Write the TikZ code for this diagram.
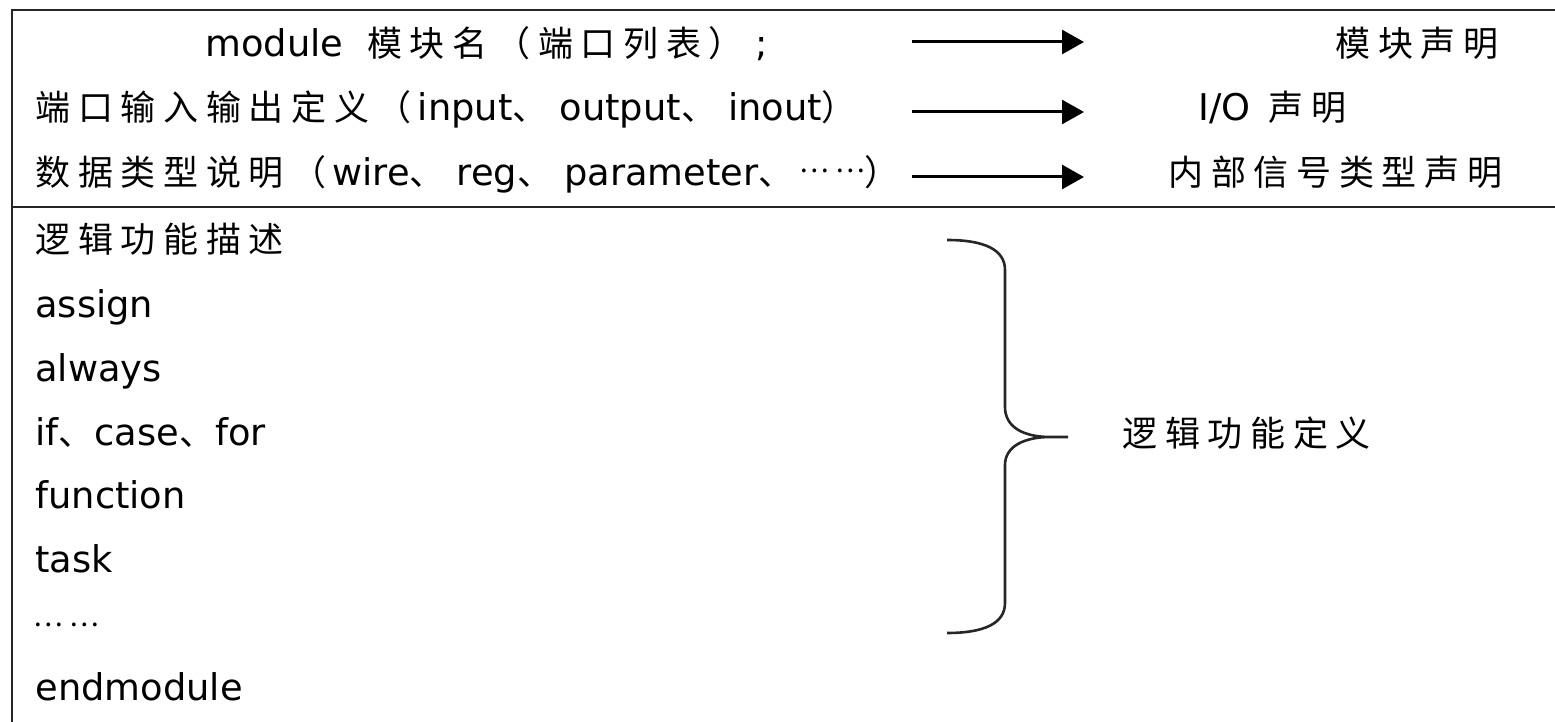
\documentclass[tikz,border=0pt]{standalone}
\usepackage{fontspec}
\setmainfont{DejaVu Sans}
\newfontfamily\cjkfont[LetterSpace=22]{Noto Sans CJK SC}
\newcommand\zh[1]{{\cjkfont\fontsize{17.5}{20}\selectfont #1}}
% enumeration comma with its trailing gap
\newcommand\dun{\zh{、}\hspace{6pt}}
% six raised dots
\newcommand\dotsrow{\raisebox{6pt}{\cjkfont\fontsize{14}{16}\selectfont ……}}
\usetikzlibrary{arrows.meta}
\begin{document}
\begin{tikzpicture}[x=0.5pt,y=-0.5pt,
  font=\fontsize{18.4}{22}\selectfont,
  txt/.style={anchor=base west, inner sep=0pt},
  rule/.style={line width=1.1pt, draw=black!85},
  flow/.style={line width=1.5pt, -{Triangle[length=11pt,width=12pt]}},
  bracestroke/.style={line width=1.3pt, draw=black!85}]
\useasboundingbox (0,0) rectangle (1555,722);

% frame: left edge, top edge and the divider under the declarations
\draw[rule] (12,722) -- (12,10) -- (1555,10);
\draw[rule] (12,207) -- (1555,207);

% declaration part
\node[txt] (l1) at (205,57) {module\hspace{12pt}\zh{模块名（端口列表）}\hspace{6pt};};
\node[txt] (l2) at (35,121) {\zh{端口输入输出定义（}\hspace{3pt}input\dun output\dun inout\zh{）}};
\node[txt] (l3) at (35,185) {\zh{数据类型说明（}\hspace{3pt}wire\dun reg\dun parameter\zh{、}\hspace{3pt}\dotsrow\zh{）}};

\node[txt] (r1) at (1335,57) {\zh{模块声明}};
\node[txt] (r2) at (1198,121) {I/O\hspace{9pt}\zh{声明}};
\node[txt] (r3) at (1168,185) {\zh{内部信号类型声明}};

\coordinate (a1s) at (912,42);  \coordinate (a1e) at (1084,42);
\coordinate (a2s) at (912,112); \coordinate (a2e) at (1084,112);
\coordinate (a3s) at (912,177); \coordinate (a3e) at (1084,177);
\draw[flow] (a1s) -- (a1e);
\draw[flow] (a2s) -- (a2e);
\draw[flow] (a3s) -- (a3e);

% logic description part
\node[txt] (d0) at (35,253) {\zh{逻辑功能描述}};
\node[txt] (d1) at (35,317) {assign};
\node[txt] (d2) at (35,381) {always};
\node[txt] (d3) at (35,445) {if\zh{、}\hspace{0.5pt}case\zh{、}\hspace{0.5pt}for};
\node[txt] (d4) at (35,508) {function};
\node[txt] (d5) at (35,572) {task};
\node[txt] (d6) at (33,638) {\dotsrow};
\node[txt] (d7) at (35,700) {endmodule};

\node[txt] (def) at (1122,446) {\zh{逻辑功能定义}};

% curly brace grouping the statements
\coordinate (bt) at (947,240);
\coordinate (bs1) at (1005,270);
\coordinate (bs2) at (1005,407);
\coordinate (bk) at (1050,437);
\coordinate (tip) at (1068,437);
\coordinate (bs3) at (1005,465);
\coordinate (bs4) at (1005,603);
\coordinate (bb) at (947,633);
\draw[bracestroke]
  (bt) .. controls (985,240) and (1005,250) .. (bs1)
  -- (bs2) .. controls (1005,428) and (1025,437) .. (bk) -- (tip)
  (bk) .. controls (1025,437) and (1005,446) .. (bs3)
  -- (bs4) .. controls (1005,623) and (985,633) .. (bb);
\end{tikzpicture}
\end{document}
